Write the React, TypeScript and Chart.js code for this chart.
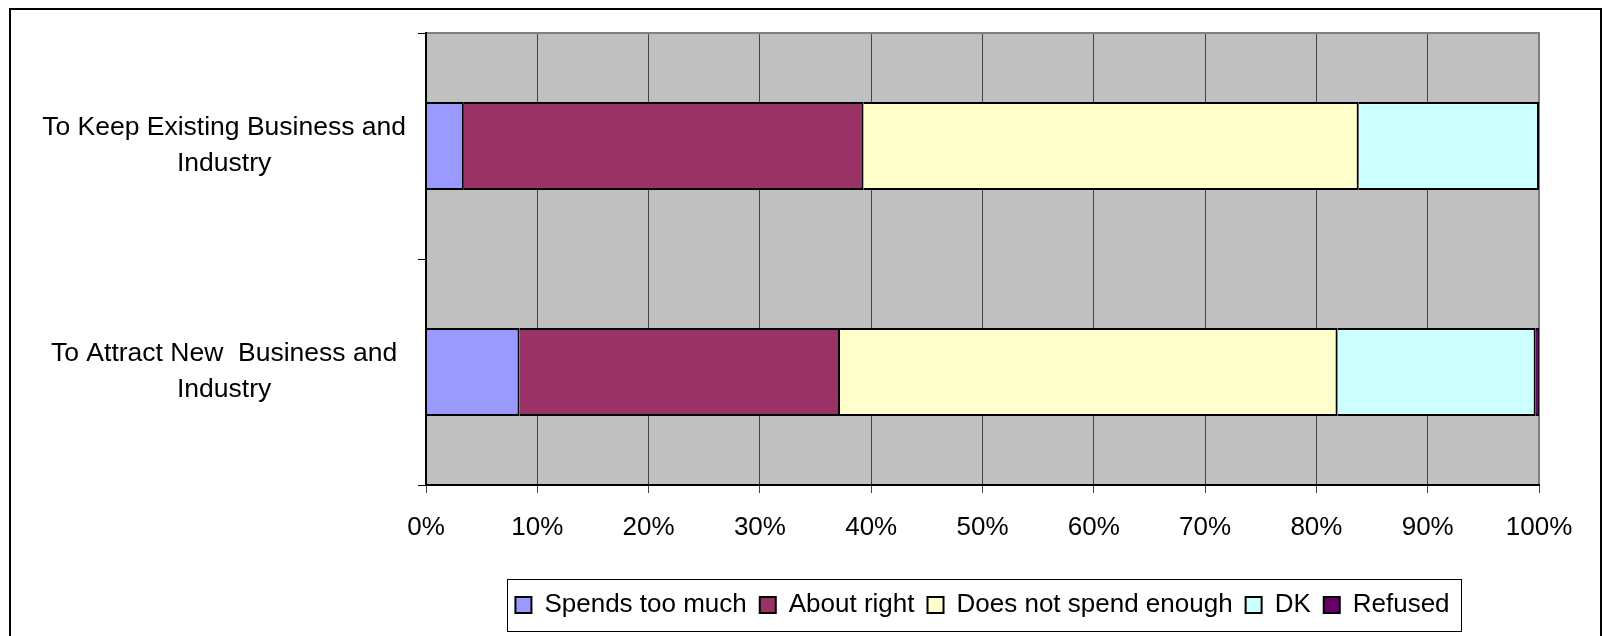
import React, { useEffect, useRef } from "react";
import { Chart, registerables } from "chart.js";

Chart.register(...registerables);

const categories: string[][] = [
  ["To Keep Existing Business and", "Industry"],
  ["To Attract New  Business and", "Industry"],
];
const seriesNames = ["Spends too much", "About right", "Does not spend enough", "DK", "Refused"];
const spendsTooMuch = [3.4, 8.4];
const aboutRight = [35.9, 28.8];
const notEnough = [44.5, 44.7];
const dontKnow = [16.2, 17.8];
const refused = [0, 0.3];
const seriesColors = ["#9999FF", "#993366", "#FFFFCC", "#CCFFFF", "#660066"];
const xMin = 0;
const xMax = 100;
const xStep = 10;

const FONT = "'Liberation Sans', Arial, sans-serif";

const plotDecor = {
  id: "plotDecor",
  beforeDraw(chart: any) {
    const { ctx, chartArea: a } = chart;
    ctx.save();
    ctx.fillStyle = "#ffffff";
    ctx.fillRect(0, 0, chart.width, chart.height);
    ctx.fillStyle = "#C0C0C0";
    ctx.fillRect(a.left, a.top, a.right - a.left, a.bottom - a.top);
    ctx.restore();
  },
  beforeDatasetsDraw(chart: any) {
    const { ctx, chartArea: a } = chart;
    ctx.save();
    ctx.strokeStyle = "#808080";
    ctx.lineWidth = 2;
    ctx.beginPath();
    ctx.moveTo(a.left, a.top);
    ctx.lineTo(a.right, a.top);
    ctx.lineTo(a.right, a.bottom);
    ctx.stroke();
    ctx.restore();
  },
  afterDraw(chart: any) {
    const lg = chart.legend;
    if (!lg || !lg.legendHitBoxes || !lg.legendHitBoxes.length) return;
    const hb = lg.legendHitBoxes;
    let l = Infinity, r = -Infinity, t = Infinity, b = -Infinity;
    hb.forEach((h: any) => {
      l = Math.min(l, h.left);
      r = Math.max(r, h.left + h.width);
      t = Math.min(t, h.top);
      b = Math.max(b, h.top + h.height);
    });
    const { ctx } = chart;
    ctx.save();
    ctx.strokeStyle = "#000000";
    ctx.lineWidth = 1;
    ctx.strokeRect(Math.round(l - 8) + 0.5, Math.round(t - 13) + 0.5, Math.round(r - l + 20), Math.round(b - t + 26));
    ctx.restore();
  },
};

export default function App() {
  const ref = useRef<HTMLCanvasElement | null>(null);

  useEffect(() => {
    if (!ref.current) return;
    const seriesValues = [spendsTooMuch, aboutRight, notEnough, dontKnow, refused];
    const chart = new Chart(ref.current, {
      type: "bar",
      data: {
        labels: categories,
        datasets: seriesNames.map((name, i) => ({
          label: name,
          data: seriesValues[i],
          backgroundColor: seriesColors[i],
          borderColor: "#000000",
          borderWidth: 2,
          borderSkipped: "start",
          barPercentage: 0.39,
          categoryPercentage: 1,
        })),
      },
      options: {
        indexAxis: "y",
        responsive: false,
        maintainAspectRatio: false,
        animation: false,
        devicePixelRatio: 1,
        layout: { padding: { top: 33, right: 63, bottom: 8, left: 0 } },
        plugins: {
          tooltip: { enabled: false },
          title: { display: false },
          legend: {
            display: true,
            position: "bottom",
            fullSize: false,
            labels: {
              color: "#000000",
              font: { family: FONT, size: 26 },
              boxWidth: 16,
              boxHeight: 16,
              padding: 13,
            },
          },
        },
        scales: {
          x: {
            type: "linear",
            stacked: true,
            min: xMin,
            max: xMax,
            ticks: {
              stepSize: xStep,
              color: "#000000",
              font: { family: FONT, size: 26 },
              padding: 19,
              maxRotation: 0,
              callback: (v: any) => v + "%",
            },
            grid: {
              color: "#444444",
              lineWidth: 1,
              tickLength: 8,
              drawOnChartArea: true,
              drawTicks: true,
            },
            border: { display: true, color: "#000000", width: 2, z: 1 },
            afterFit: (s: any) => {
              s.height = 94;
            },
          },
          y: {
            type: "category",
            stacked: true,
            offset: true,
            ticks: {
              color: "#000000",
              font: { family: FONT, size: 26.5, lineHeight: 1.36 },
              padding: 12,
              crossAlign: "center",
            },
            grid: {
              offset: true,
              color: "#000000",
              drawOnChartArea: false,
              drawTicks: true,
              tickLength: 8,
            },
            border: { display: true, color: "#000000", width: 2, z: 1 },
            afterFit: (s: any) => {
              s.width = 426;
              s.paddingTop = 0;
              s.paddingBottom = 0;
            },
          },
        },
      },
      plugins: [plotDecor],
    });
    return () => chart.destroy();
  }, []);

  return (
    <div style={{ position: "fixed", left: 0, top: 0, width: 1602, height: 636, overflow: "hidden", background: "#fff" }}>
      <canvas ref={ref} width={1602} height={636} style={{ position: "absolute", left: 0, top: 0, width: 1602, height: 636 }} />
      <div
        style={{
          position: "absolute",
          left: 9,
          top: 8,
          width: 1593,
          height: 700,
          border: "2px solid #000",
          boxSizing: "border-box",
          pointerEvents: "none",
        }}
      />
    </div>
  );
}
